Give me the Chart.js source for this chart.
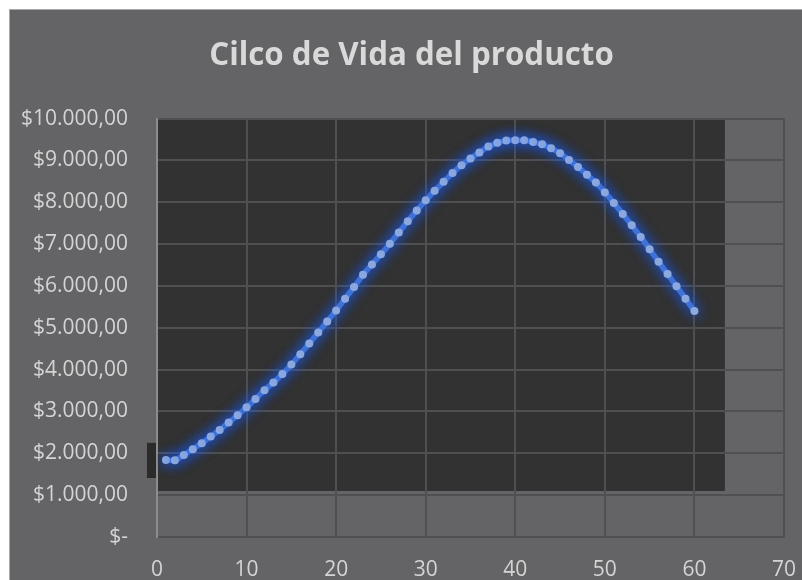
<!DOCTYPE html>
<html>
<head>
<meta charset="utf-8">
<script src="https://cdn.jsdelivr.net/npm/chart.js@4"></script>
<style>
  html, body { margin: 0; padding: 0; background: #ffffff; }
  #frame {
    position: absolute; left: 9px; top: 9px;
    width: 792px; height: 570px;
    border-top: 1px solid #a8a8a8; border-left: 1px solid #a8a8a8;
    background: #646466;
  }
  canvas { display: block; }
</style>
</head>
<body>
<div id="frame"><canvas id="c" width="792" height="570"></canvas></div>
<script>
// Periods of the product life cycle
const periods = [1, 2, 3, 4, 5, 6, 7, 8, 9, 10,
  11, 12, 13, 14, 15, 16, 17, 18, 19, 20,
  21, 22, 23, 24, 25, 26, 27, 28, 29, 30,
  31, 32, 33, 34, 35, 36, 37, 38, 39, 40,
  41, 42, 43, 44, 45, 46, 47, 48, 49, 50,
  51, 52, 53, 54, 55, 56, 57, 58, 59, 60];

// Sales per period
const sales = [1840, 1835, 1960, 2100, 2240, 2400, 2560, 2735, 2910, 3100,
  3300, 3510, 3690, 3895, 4120, 4370, 4625, 4885, 5150, 5415,
  5695, 5975, 6265, 6515, 6755, 7010, 7280, 7545, 7800, 8045,
  8275, 8490, 8700, 8885, 9045, 9190, 9330, 9420, 9475, 9480,
  9480, 9440, 9385, 9290, 9170, 9010, 8845, 8655, 8470, 8235,
  7985, 7720, 7450, 7170, 6875, 6580, 6285, 5995, 5695, 5400];

// Axis tick labels
const yTickLabels = ['$-', '$1.000,00', '$2.000,00', '$3.000,00', '$4.000,00',
  '$5.000,00', '$6.000,00', '$7.000,00', '$8.000,00', '$9.000,00', '$10.000,00'];
const xTickLabels = ['0', '10', '20', '30', '40', '50', '60', '70'];

const titleText = 'Cilco de Vida del producto';

const points = periods.map((p, i) => ({ x: p, y: sales[i] }));

// Dark panel behind the curve plus the small marker block left of the axis;
// the title is centred over the plot rather than the whole canvas
const panelPlugin = {
  id: 'panel',
  afterLayout(chart) {
    if (chart.titleBlock) chart.titleBlock.left = 29;
  },
  beforeDraw(chart) {
    const { ctx, scales: { x, y } } = chart;
    ctx.save();
    ctx.fillStyle = '#323232';
    const l = x.getPixelForValue(0), r = x.getPixelForValue(63.4);
    const t = y.getPixelForValue(10000), b = y.getPixelForValue(1100);
    ctx.fillRect(l, t, r - l, b - t);
    const l2 = x.getPixelForValue(-1.12);
    const t2 = y.getPixelForValue(2250), b2 = y.getPixelForValue(1410);
    ctx.fillStyle = '#2b2b2b';
    ctx.fillRect(l2, t2, l - l2, b2 - t2);
    ctx.restore();
  }
};

// Blue glow around the series
const glowPlugin = {
  id: 'glow',
  beforeDatasetDraw(chart) {
    const ctx = chart.ctx;
    ctx.save();
    ctx.shadowColor = 'rgba(25, 95, 255, 0.95)';
    ctx.shadowBlur = 13;
  },
  afterDatasetDraw(chart) {
    chart.ctx.restore();
  }
};

const fontFamily = "'Open Sans', 'Noto Sans', sans-serif";

new Chart(document.getElementById('c'), {
  type: 'line',
  data: {
    datasets: [{
      data: points,
      borderColor: '#4a78d0',
      borderWidth: 5.5,
      pointRadius: 4,
      pointBackgroundColor: '#8eaadf',
      pointBorderWidth: 0,
      pointHoverRadius: 4,
      tension: 0.3,
      fill: false
    }]
  },
  options: {
    responsive: false,
    animation: false,
    events: [],
    layout: { padding: { left: 0, right: 18, top: 0, bottom: 0 } },
    plugins: {
      legend: { display: false },
      tooltip: { enabled: false },
      title: {
        display: true,
        text: titleText,
        color: '#d9d9d9',
        font: { family: fontFamily, size: 31.3, weight: 'bold' },
        padding: { top: 27, bottom: 44 }
      }
    },
    scales: {
      x: {
        type: 'linear',
        min: 0, max: 70,
        afterBuildTicks(scale) {
          scale.ticks = xTickLabels.map(v => ({ value: Number(v) }));
        },
        afterFit(scale) {
          scale.height = 43;
          scale.paddingLeft = 0;
          scale.paddingRight = 0;
        },
        ticks: {
          color: '#d4d4d4',
          font: { family: fontFamily, size: 21 },
          padding: 20,
          maxRotation: 0,
          callback: (v, i) => xTickLabels[i]
        },
        grid: { color: '#505052', lineWidth: 2, drawTicks: false },
        border: { color: '#505052', width: 2 }
      },
      y: {
        min: 0, max: 10000,
        afterBuildTicks(scale) {
          scale.ticks = yTickLabels.map((_, i) => ({ value: i * 1000 }));
        },
        afterFit(scale) {
          scale.width = 147;
          scale.paddingTop = 0;
          scale.paddingBottom = 0;
        },
        ticks: {
          color: '#d4d4d4',
          font: { family: fontFamily, size: 21 },
          padding: 29,
          callback: (v, i) => yTickLabels[i]
        },
        grid: { color: '#505052', lineWidth: 2, drawTicks: false },
        border: { color: '#8c8c8c', width: 2 }
      }
    }
  },
  plugins: [panelPlugin, glowPlugin]
});
</script>
</body>
</html>
